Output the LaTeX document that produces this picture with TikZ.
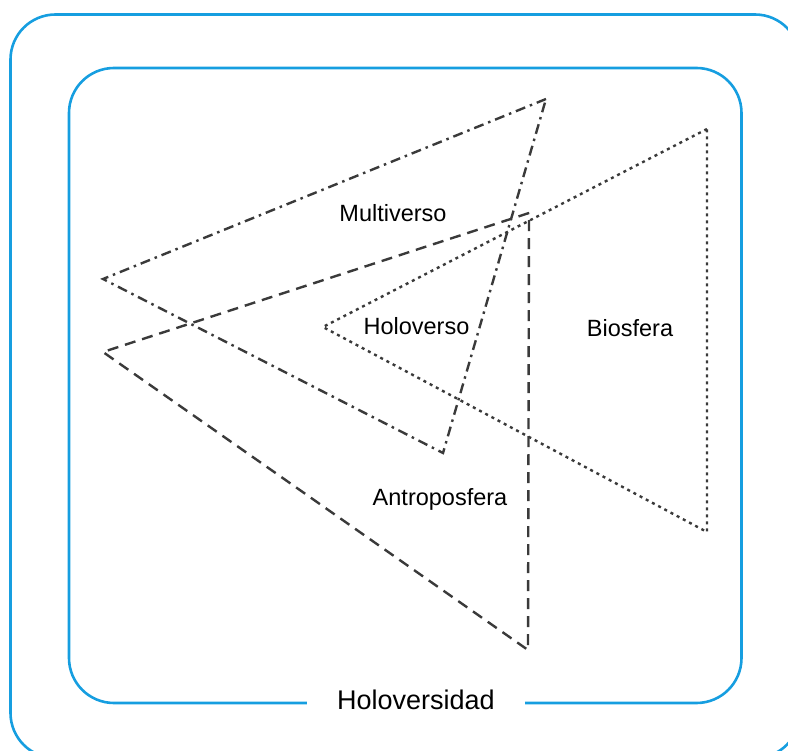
\documentclass[tikz,border=0pt]{standalone}
\usepackage{fontspec}
\setmainfont{Liberation Sans}
\definecolor{frameblue}{RGB}{22,158,224}
\definecolor{edgegray}{RGB}{58,58,58}
\begin{document}
\begin{tikzpicture}[x=1pt,y=-1pt,
  frame/.style={draw=frameblue,line width=2.6pt,rounded corners=45pt},
  tri/.style={draw=edgegray,line width=2.4pt,line join=miter},
  dashdot/.style={tri,dash pattern=on 10pt off 5pt on 2.5pt off 5pt},
  longdash/.style={tri,dash pattern=on 11pt off 7pt},
  dots/.style={tri,dash pattern=on 3pt off 4pt},
  lbl/.style={font=\fontsize{23.5}{26}\selectfont,anchor=base,inner sep=0pt},
  title/.style={font=\fontsize{27}{30}\selectfont,anchor=base,fill=white,inner xsep=30pt,inner ysep=6pt}]
\useasboundingbox (0,0) rectangle (788,751);
\clip (0,0) rectangle (788,751);

% outer and inner frames
\draw[frame] (10.5,14.5) rectangle (800,758);
\draw[frame] (69,68) rectangle (741.5,703);

% triangle vertices
\coordinate (m1) at (546,99);
\coordinate (m2) at (103,279);
\coordinate (m3) at (443,453);
\coordinate (a1) at (529,213);
\coordinate (a2) at (103,352);
\coordinate (a3) at (528,650);
\coordinate (b1) at (707,129);
\coordinate (b2) at (323,327);
\coordinate (b3) at (707,532);

\draw[dashdot] (m1) -- (m2) -- (m3) -- cycle;
\draw[longdash] (a1) -- (a2) -- (a3) -- cycle;
\draw[dots] (b1) -- (b2) -- (b3) -- cycle;

% labels
\node[lbl] (multi) at (393,221.7) {Multiverso};
\node[lbl] (holo) at (416.5,334.3) {Holoverso};
\node[lbl] (bio) at (630,336.7) {Biosfera};
\node[lbl] (antro) at (440,505) {Antroposfera};
\node[title] (holov) at (416,709.3) {Holoversidad};
\end{tikzpicture}
\end{document}
